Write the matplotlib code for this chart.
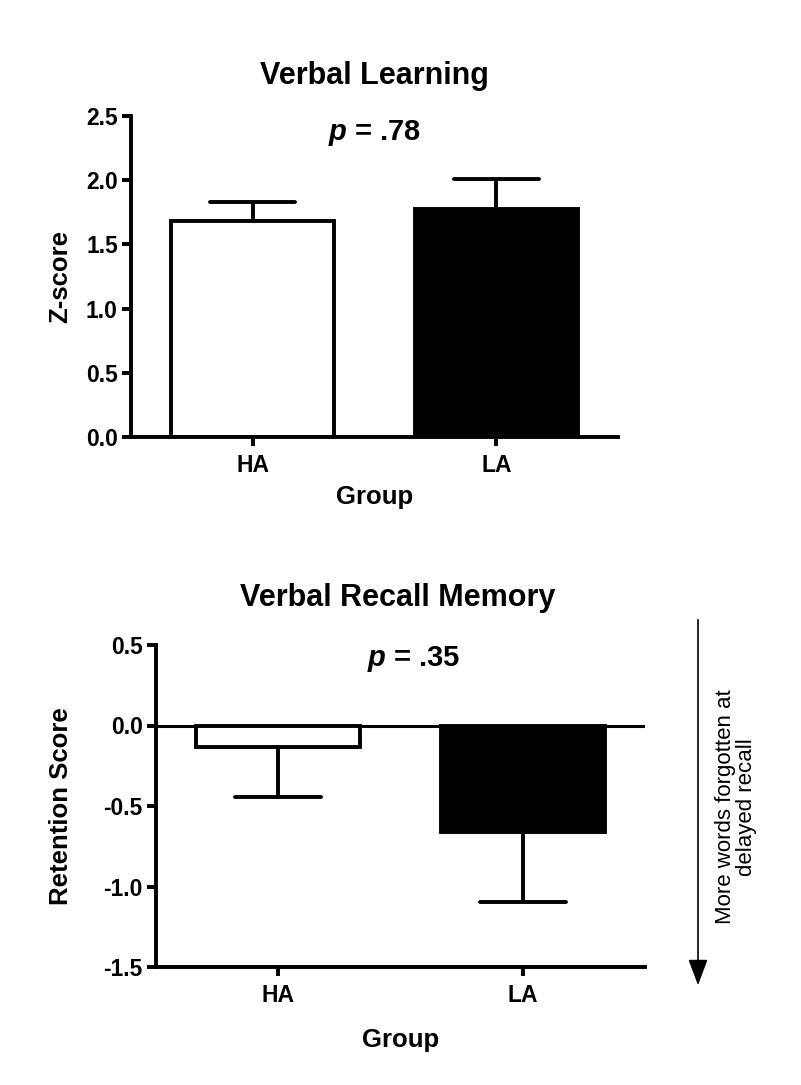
import matplotlib
matplotlib.use('Agg')
import matplotlib.pyplot as plt

plt.rcParams['font.family'] = ['Liberation Sans', 'DejaVu Sans']
plt.rcParams['font.weight'] = 'bold'
plt.rcParams['axes.labelweight'] = 'bold'
plt.rcParams['axes.unicode_minus'] = False
plt.rcParams['mathtext.fontset'] = 'custom'
plt.rcParams['mathtext.it'] = 'Liberation Sans:italic:bold'
plt.rcParams['mathtext.rm'] = 'Liberation Sans:bold'

# data
groups = ['HA', 'LA']
learning_mean = [1.683, 1.778]
learning_err = [0.147, 0.235]
recall_mean = [-0.136, -0.661]
recall_err = [0.306, 0.436]
bar_colors = ['white', 'black']
learning_ticks = [0.0, 0.5, 1.0, 1.5, 2.0, 2.5]
recall_ticks = [0.5, 0.0, -0.5, -1.0, -1.5]

W, H = 801, 1085
lw = 2.8
bar_w = 0.67
cap_w = 0.35


def style(ax):
    for s in ['top', 'right']:
        ax.spines[s].set_visible(False)
    for s in ['left', 'bottom']:
        ax.spines[s].set_linewidth(lw)
    ax.tick_params(direction='out', length=6.5, width=lw, labelsize=16.5, pad=3)
    ax.tick_params(axis='x', pad=6)
    ax.set_xlim(-0.5, 1.5)
    ax.set_xticks(range(len(groups)))
    ax.set_xticklabels(groups)


def draw_bars(ax, means, errs, sign):
    x = list(range(len(groups)))
    ax.bar(x, means, width=bar_w, color=bar_colors, edgecolor='black',
           linewidth=lw, zorder=2)
    ends = [m + sign * e for m, e in zip(means, errs)]
    ax.vlines(x, means, ends, color='black', linewidth=lw, zorder=3)
    ax.hlines(ends, [i - cap_w / 2 for i in x], [i + cap_w / 2 for i in x],
              color='black', linewidth=lw, zorder=3, capstyle='round')


fig = plt.figure(figsize=(W / 100, H / 100), dpi=100)

############################
# Verbal Learning
ax1 = fig.add_axes([131 / W, 1 - 437 / H, 487 / W, 321 / H])
style(ax1)
draw_bars(ax1, learning_mean, learning_err, 1)
ax1.set_ylim(0, 2.5)
ax1.set_yticks(learning_ticks)
ax1.set_yticklabels(['%.1f' % t for t in learning_ticks])
ax1.set_ylabel('Z-score', fontsize=18.5)
ax1.yaxis.set_label_coords(-0.146, 0.5)
ax1.yaxis.label.set_va('center')
ax1.set_xlabel('Group', fontsize=18.5)
ax1.xaxis.set_label_coords(0.5, -0.187)
ax1.xaxis.label.set_va('center')
ax1.text(0.5, 2.37, '$p$ = .78', fontsize=21, ha='center', va='center')
fig.text(374 / W, 1 - 76 / H, 'Verbal Learning', fontsize=22,
         ha='center', va='center')

############################
# Verbal Recall Memory
ax2 = fig.add_axes([156 / W, 1 - 967 / H, 489 / W, 322 / H])
style(ax2)
draw_bars(ax2, recall_mean, recall_err, -1)
ax2.axhline(0, color='black', linewidth=2.2, zorder=1)
ax2.set_ylim(-1.5, 0.5)
ax2.set_yticks(recall_ticks)
ax2.set_yticklabels(['%.1f' % t for t in recall_ticks])
ax2.set_ylabel('Retention Score', fontsize=18.5)
ax2.yaxis.set_label_coords(-0.194, 0.5)
ax2.yaxis.label.set_va('center')
ax2.set_xlabel('Group', fontsize=18.5)
ax2.xaxis.set_label_coords(0.5, -0.227)
ax2.xaxis.label.set_va('center')
ax2.text(0.556, 0.416, '$p$ = .35', fontsize=21, ha='center', va='center')
fig.text(398 / W, 1 - 598 / H, 'Verbal Recall Memory', fontsize=22,
         ha='center', va='center')

# direction arrow on the right
fig.add_artist(matplotlib.patches.FancyArrowPatch(
    (698 / W, 1 - 617 / H), (698 / W, 1 - 988 / H),
    transform=fig.transFigure, arrowstyle='-|>,head_length=1.6,head_width=0.6',
    mutation_scale=10, color='black', linewidth=1.2))
fig.text(736 / W, 1 - 807 / H, 'More words forgotten at\ndelayed recall',
         fontsize=16, fontweight='normal', rotation=90, ha='center',
         va='center', multialignment='center', linespacing=1.05)

plt.savefig('out.png', dpi=100)
